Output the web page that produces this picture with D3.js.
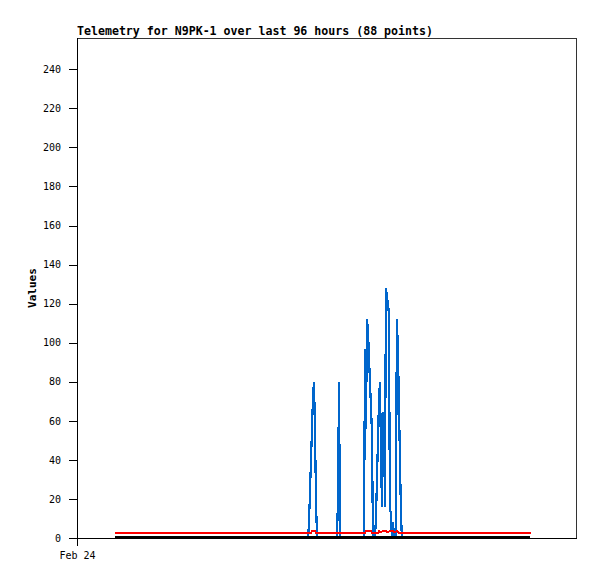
<!DOCTYPE html>
<html>
<head>
<meta charset="utf-8">
<script src="https://cdn.jsdelivr.net/npm/d3@7"></script>
<style>
  html, body { margin: 0; padding: 0; background: #fff; }
  svg { display: block; }
  text { font-family: "DejaVu Sans Mono", "Liberation Mono", monospace; }
</style>
</head>
<body>
<svg id="chart" width="597" height="579"></svg>
<script>
// ---- data (hours since Feb 24 00:00) ----
const titleText = "Telemetry for N9PK-1 over last 96 hours (88 points)";
const yLabel = "Values";
const xTickHours = [0];
const xTickLabels = ["Feb 24"];
const yTicks = [0, 20, 40, 60, 80, 100, 120, 140, 160, 180, 200, 220, 240];

const blueTimes = [8.79, 53.44, 53.67, 53.90, 54.13, 54.36, 54.59, 54.82, 55.05, 55.28, 55.52,
  60.14, 60.37, 60.61, 60.84,
  66.39, 66.62, 66.85, 67.08, 67.31, 67.54, 67.77, 68.00, 68.23, 68.46,
  68.92, 69.16, 69.39, 69.62, 69.85, 70.08, 70.31, 70.54, 70.77, 71.00, 71.23,
  71.46, 71.69, 71.92, 72.15, 72.38, 72.61, 72.84, 73.07, 73.30, 73.53, 73.76,
  73.99, 74.23, 74.46, 74.69, 74.92, 75.15, 104.79];
const blueValues = [0, 0, 8, 24, 40, 56, 72, 80, 56, 20, 0,
  0, 20, 80, 0,
  0, 97, 56, 112, 106, 93, 80, 67, 54, 0,
  0, 10, 30, 50, 70, 80, 45, 16, 64, 64, 16,
  128, 124, 120, 115, 16, 12, 0, 8, 0, 5, 0,
  112, 97, 70, 42, 15, 0, 0];

const redTimes = [8.79, 54.13, 54.36, 55.05, 55.28, 66.62, 66.85, 68.00, 68.23, 69.62, 69.85,
  70.31, 70.77, 71.46, 71.92, 72.38, 73.07, 73.53, 73.99, 74.46, 105.02];
const redValues = [2.5, 2.5, 3.5, 3.5, 2.5, 2.5, 3.5, 3.5, 2.5, 2.5, 3.5,
  3, 3.5, 3.5, 3, 3.5, 3.5, 3, 3.5, 2.5, 2.5];

const blackTimes = [8.79, 104.79];
const blackValues = [0, 0];

// ---- layout ----
const W = 597, H = 579;
const m = { left: 77, top: 38, right: 20, bottom: 41 };
const pw = W - m.left - m.right;   // 500
const ph = H - m.top - m.bottom;   // 500

const svg = d3.select("#chart");
const g = svg.append("g").attr("transform", `translate(${m.left},${m.top})`);

const x = d3.scaleLinear().domain([0, 115.66]).range([0, pw]);
const y = d3.scaleLinear().domain([0, 256]).range([ph, 0]);

// frame (top/right)
g.append("path")
  .attr("d", `M0.5,0.5H${pw - 0.5}V${ph}`)
  .attr("fill", "none").attr("stroke", "#333").attr("stroke-width", 1)
  .attr("shape-rendering", "crispEdges");

// series
const line = (ts, vs) => d3.line()
  .x((d, i) => x(ts[i]))
  .y((d, i) => y(vs[i]))(vs);

g.append("path").attr("d", line(blueTimes, blueValues))
  .attr("fill", "none").attr("stroke", "#0066cc").attr("stroke-width", 2.2)
  .attr("shape-rendering", "crispEdges");
g.append("path").attr("d", line(redTimes, redValues))
  .attr("fill", "none").attr("stroke", "#ff0000").attr("stroke-width", 2)
  .attr("shape-rendering", "crispEdges");
g.append("path").attr("d", line(blackTimes, blackValues))
  .attr("fill", "none").attr("stroke", "#000000").attr("stroke-width", 2)
  .attr("transform", "translate(0,-1)")
  .attr("shape-rendering", "crispEdges");

// axes
const yAxis = d3.axisLeft(y).tickValues(yTicks).tickSize(8).tickPadding(8)
  .tickFormat(d3.format("d"));
const gy = g.append("g").call(yAxis);
gy.select(".domain").attr("d", `M0.5,0V${ph}`).attr("stroke", "#000");
gy.selectAll("text").attr("font-size", "10px").attr("fill", "#000")
  .attr("font-family", "'DejaVu Sans Mono', monospace");
gy.selectAll("line").attr("stroke", "#000");

const xAxis = d3.axisBottom(x).tickValues(xTickHours).tickSize(8).tickPadding(6)
  .tickFormat((d, i) => xTickLabels[i]);
const gx = g.append("g").attr("transform", `translate(0,${ph})`).call(xAxis);
gx.select(".domain").attr("d", `M0,0.5H${pw}`).attr("stroke", "#000");
gx.selectAll("text").attr("font-size", "10px").attr("fill", "#000")
  .attr("font-family", "'DejaVu Sans Mono', monospace");
gx.selectAll("line").attr("stroke", "#000");
svg.selectAll(".domain, .tick line").attr("shape-rendering", "crispEdges");

// title
svg.append("text")
  .attr("x", m.left).attr("y", 35)
  .attr("font-size", "11.6px").attr("font-weight", "bold")
  .text(titleText);

// y label
svg.append("text")
  .attr("transform", `translate(36,${m.top + ph / 2}) rotate(-90)`)
  .attr("text-anchor", "middle")
  .attr("font-size", "11px").attr("font-weight", "bold")
  .text(yLabel);
</script>
</body>
</html>
